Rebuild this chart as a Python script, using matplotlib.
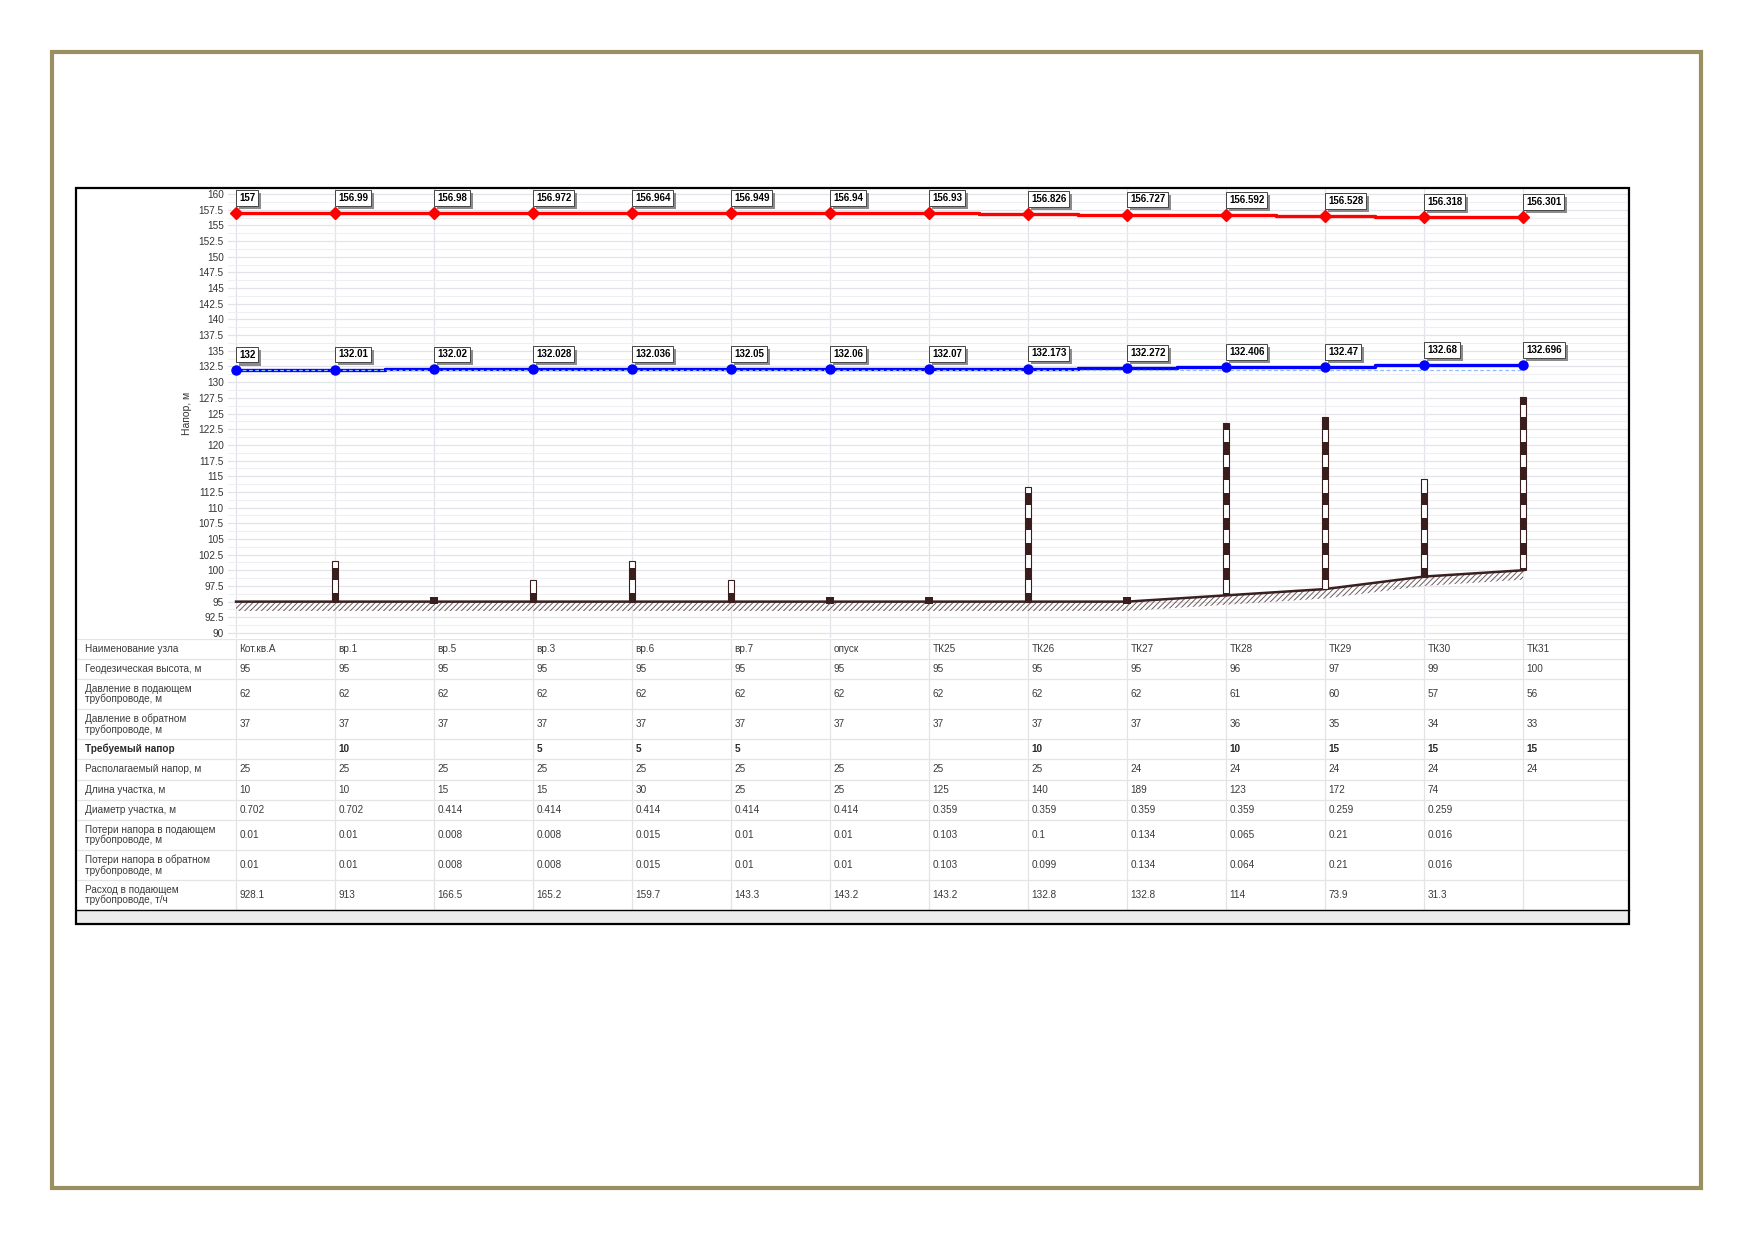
import numpy as np
import matplotlib
matplotlib.use('Agg')
import matplotlib.pyplot as plt
from matplotlib.patches import Rectangle
from matplotlib.transforms import ScaledTranslation
from matplotlib.ticker import FuncFormatter, MultipleLocator

plt.rcParams['font.family'] = ['Liberation Sans', 'DejaVu Sans']
plt.rcParams['hatch.linewidth'] = 0.7

# ---------------- data ----------------
nodes = ['Кот.кв.А', 'вр.1', 'вр.5', 'вр.3', 'вр.6', 'вр.7', 'опуск',
         'ТК25', 'ТК26', 'ТК27', 'ТК28', 'ТК29', 'ТК30', 'ТК31']
supply_head = [157, 156.99, 156.98, 156.972, 156.964, 156.949, 156.94,
               156.93, 156.826, 156.727, 156.592, 156.528, 156.318, 156.301]
return_head = [132, 132.01, 132.02, 132.028, 132.036, 132.05, 132.06,
               132.07, 132.173, 132.272, 132.406, 132.47, 132.68, 132.696]
return_ref = [132, 132, 132, 132, 132, 132, 132, 132, 132, 132, 132, 132, 132, 132]
geo_height = [95, 95, 95, 95, 95, 95, 95, 95, 95, 95, 96, 97, 99, 100]
building_top = [np.nan, 101.5, np.nan, 98.4, 101.5, 98.4, np.nan, np.nan,
                113.3, np.nan, 123.5, 124.4, 114.6, 127.6]
junction = [False, False, True, False, False, False, True, True,
            False, True, False, False, False, False]

p_supply = [62, 62, 62, 62, 62, 62, 62, 62, 62, 62, 61, 60, 57, 56]
p_return = [37, 37, 37, 37, 37, 37, 37, 37, 37, 37, 36, 35, 34, 33]
req_head = [None, 10, None, 5, 5, 5, None, None, 10, None, 10, 15, 15, 15]
avail_head = [25, 25, 25, 25, 25, 25, 25, 25, 25, 24, 24, 24, 24, 24]
seg_length = [10, 10, 15, 15, 30, 25, 25, 125, 140, 189, 123, 172, 74, None]
seg_diam = [0.702, 0.702, 0.414, 0.414, 0.414, 0.414, 0.414, 0.359, 0.359,
            0.359, 0.359, 0.259, 0.259, None]
loss_supply = [0.01, 0.01, 0.008, 0.008, 0.015, 0.01, 0.01, 0.103, 0.1,
               0.134, 0.065, 0.21, 0.016, None]
loss_return = [0.01, 0.01, 0.008, 0.008, 0.015, 0.01, 0.01, 0.103, 0.099,
               0.134, 0.064, 0.21, 0.016, None]
flow_supply = [928.1, 913, 166.5, 165.2, 159.7, 143.3, 143.2, 143.2, 132.8,
               132.8, 114, 73.9, 31.3, None]

row_labels = ['Наименование узла', 'Геодезическая высота, м',
              'Давление в подающем\nтрубопроводе, м',
              'Давление в обратном\nтрубопроводе, м',
              'Требуемый напор', 'Располагаемый напор, м',
              'Длина участка, м', 'Диаметр участка, м',
              'Потери напора в подающем\nтрубопроводе, м',
              'Потери напора в обратном\nтрубопроводе, м',
              'Расход в подающем\nтрубопроводе, т/ч']
row_values = [nodes, geo_height, p_supply, p_return, req_head, avail_head,
              seg_length, seg_diam, loss_supply, loss_return, flow_supply]

# ---------------- layout ----------------
W, H = 1752, 1239
fig = plt.figure(figsize=(W / 100, H / 100), dpi=100)
fig.patch.set_facecolor('white')


def box(l, t, r, b):
    return [l / W, 1 - b / H, (r - l) / W, (b - t) / H]


x = np.arange(len(nodes))
X_RIGHT = 14.06

ax = fig.add_axes(box(228, 189, 1628, 638))
ax.set_xlim(-0.081, X_RIGHT)
ax.set_ylim(89.2, 160.8)
for s in ax.spines.values():
    s.set_visible(False)
ax.set_xticks(x)
ax.set_xticklabels([])
ax.yaxis.set_major_locator(MultipleLocator(2.5))
ax.yaxis.set_minor_locator(MultipleLocator(1.25))
ax.set_yticks(np.arange(90, 160.1, 2.5))
ax.yaxis.set_major_formatter(FuncFormatter(lambda v, p: '{:g}'.format(v)))
ax.tick_params(axis='both', which='both', length=0)
ax.tick_params(axis='y', pad=3, labelsize=7.2, labelcolor='#333333')
ax.grid(True, axis='y', which='major', color='#e3e3ea', lw=0.9)
ax.grid(True, axis='y', which='minor', color='#eeeef3', lw=0.8)
ax.grid(True, axis='x', which='major', color='#e3e3ea', lw=0.9)
ax.set_axisbelow(True)
ax.set_ylabel('Напор, м', fontsize=7.5, color='#333333')
ax.yaxis.set_label_coords(-0.0257, 0.5)

# ground profile
geo = np.array(geo_height, dtype=float)
ax.fill_between(x, geo - 1.5, geo, facecolor='none', edgecolor='#6e5c5c',
                hatch='//////', lw=0, zorder=2)
ax.plot(x, geo, color='#3a2020', lw=1.8, zorder=3)

# buildings (striped bars)
DARK = '#3a1e1e'
BW = 0.065
for i, top in enumerate(building_top):
    if np.isnan(top):
        continue
    base = geo[i]
    ax.bar(i, top - base, bottom=base, width=BW, color='white',
           edgecolor=DARK, lw=0.8, zorder=4)
    k = np.floor((base - 94.4) / 4.0)
    lo = 94.4 + 4.0 * k
    while lo < top:
        a, b = max(lo, base), min(lo + 2.0, top)
        if b > a:
            ax.bar(i, b - a, bottom=a, width=BW, color=DARK, lw=0, zorder=5)
        lo += 4.0

# junction squares
for i, j in enumerate(junction):
    if j:
        ax.bar(i, 1.0, bottom=geo[i] - 0.3, width=0.075, color=DARK, lw=0, zorder=5)

# head lines
ax.plot(x, supply_head, color='#ff0000', lw=2.4, drawstyle='steps-mid', zorder=6)
ax.plot(x, supply_head, ls='none', marker='D', ms=6.5, color='#ff0000', zorder=7)
ax.plot(x, return_head, color='#0000ff', lw=2.4, drawstyle='steps-mid', zorder=6)
ax.plot(x, return_ref, color='#8fbcff', lw=0.9, ls=(0, (3, 2)), zorder=7)
ax.plot(x, return_head, ls='none', marker='o', ms=6.5, color='#0000ff', zorder=8)

shadow_tr = ax.transData + ScaledTranslation(2.2 / 72, -2.2 / 72, fig.dpi_scale_trans)


def value_label(xi, yi, txt):
    ax.text(xi + 0.03, yi + 2.4, txt, fontsize=7, fontweight='bold',
            color='none', ha='left', va='center', transform=shadow_tr,
            bbox=dict(boxstyle='square,pad=0.3', fc='#8c8c8c', ec='none'),
            zorder=9)
    ax.text(xi + 0.03, yi + 2.4, txt, fontsize=7, fontweight='bold',
            color='black', ha='left', va='center',
            bbox=dict(boxstyle='square,pad=0.3', fc='white', ec='#444444', lw=0.7),
            zorder=10)


for xi, v in zip(x, supply_head):
    value_label(xi, v, '{:g}'.format(v))
for xi, v in zip(x, return_head):
    value_label(xi, v, '{:g}'.format(v))

# ---------------- table ----------------
row_h = [20, 20, 30, 30, 20, 21, 20, 20, 30, 30, 30]
total = sum(row_h)
tab = fig.add_axes(box(76, 639, 1628, 910))
tab.set_xlim(-1.616, X_RIGHT)
tab.set_ylim(total, 0)
tab.axis('off')

edges = np.concatenate([[0], np.cumsum(row_h)])
for e in edges[:-1]:
    tab.axhline(e, color='#e4e4e4', lw=0.9, zorder=1)
tab.vlines(x, 0, total, color='#e4e4e4', lw=0.9, zorder=1)

for r, (lab, vals) in enumerate(zip(row_labels, row_values)):
    yc = (edges[r] + edges[r + 1]) / 2
    bold = (r == 4)
    tab.text(-1.525, yc, lab, fontsize=7.2, va='center', ha='left',
             color='#2a2a2a' if bold else '#3a3a3a',
             fontweight='bold' if bold else 'normal', linespacing=1.05)
    for i, v in enumerate(vals):
        if v is None:
            continue
        s = v if isinstance(v, str) else '{:g}'.format(v)
        tab.text(i + 0.035, yc, s, fontsize=7.2, va='center', ha='left',
                 color='#2a2a2a' if bold else '#3a3a3a',
                 fontweight='bold' if bold else 'normal')

# frame pieces
fig.patches.append(Rectangle((76 / W, 1 - 924 / H), (1629 - 76) / W, (924 - 910) / H,
                             transform=fig.transFigure, fc='#ececec', ec='none', zorder=0.5))
fig.lines.append(plt.Line2D([76 / W, 1629 / W], [1 - 910 / H, 1 - 910 / H],
                            transform=fig.transFigure, color='black', lw=1.0))
fig.patches.append(Rectangle((76 / W, 1 - 924 / H), (1629 - 76) / W, (924 - 188) / H,
                             transform=fig.transFigure, fill=False, ec='black', lw=1.6))
fig.patches.append(Rectangle((52 / W, 1 - 1188 / H), (1701 - 52) / W, (1188 - 52) / H,
                             transform=fig.transFigure, fill=False, ec='#9a8f5f', lw=3))

fig.savefig('out.png', dpi=100, facecolor='white')
